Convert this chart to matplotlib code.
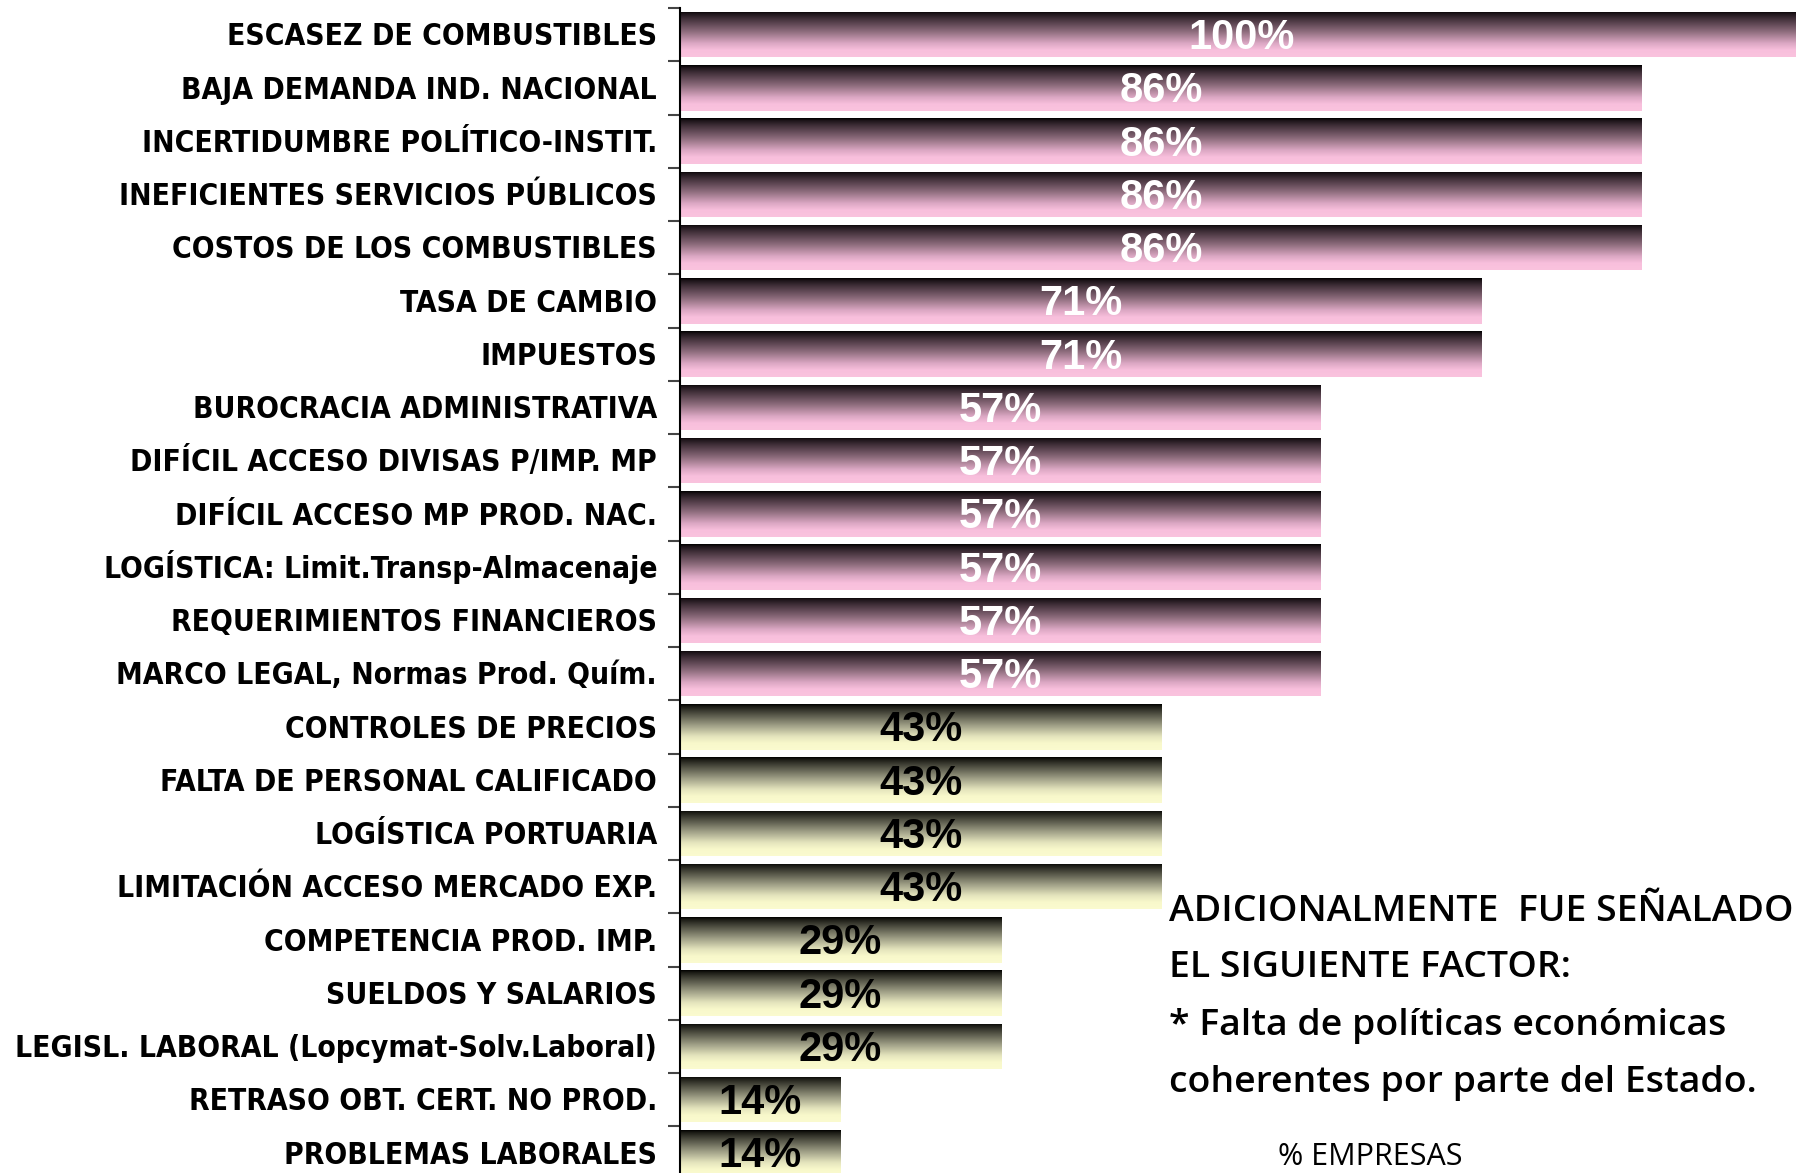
import numpy as np
import matplotlib
matplotlib.use("Agg")
import matplotlib.pyplot as plt
from matplotlib.colors import LinearSegmentedColormap
from matplotlib import font_manager as fm
import matplotlib.transforms as mtransforms

categories = [
    "ESCASEZ DE COMBUSTIBLES",
    "BAJA DEMANDA IND. NACIONAL",
    "INCERTIDUMBRE POLÍTICO-INSTIT.",
    "INEFICIENTES SERVICIOS PÚBLICOS",
    "COSTOS DE LOS COMBUSTIBLES",
    "TASA DE CAMBIO",
    "IMPUESTOS",
    "BUROCRACIA ADMINISTRATIVA",
    "DIFÍCIL ACCESO DIVISAS P/IMP. MP",
    "DIFÍCIL ACCESO MP PROD. NAC.",
    "LOGÍSTICA: Limit.Transp-Almacenaje",
    "REQUERIMIENTOS FINANCIEROS",
    "MARCO LEGAL, Normas Prod. Quím.",
    "CONTROLES DE PRECIOS",
    "FALTA DE PERSONAL CALIFICADO",
    "LOGÍSTICA PORTUARIA",
    "LIMITACIÓN ACCESO MERCADO EXP.",
    "COMPETENCIA PROD. IMP.",
    "SUELDOS Y SALARIOS",
    "LEGISL. LABORAL (Lopcymat-Solv.Laboral)",
    "RETRASO OBT. CERT. NO PROD.",
    "PROBLEMAS LABORALES",
]
values = [100, 85.7, 85.7, 85.7, 85.7, 71.4, 71.4, 57.1, 57.1, 57.1, 57.1,
          57.1, 57.1, 42.9, 42.9, 42.9, 42.9, 28.6, 28.6, 28.6, 14.3, 14.3]
value_labels = ["100%", "86%", "86%", "86%", "86%", "71%", "71%", "57%", "57%",
                "57%", "57%", "57%", "57%", "43%", "43%", "43%", "43%", "29%",
                "29%", "29%", "14%", "14%"]
threshold = 50
note_lines = ["ADICIONALMENTE  FUE SEÑALADO",
              "EL SIGUIENTE FACTOR:",
              "* Falta de políticas económicas",
              "coherentes por parte del Estado."]
axis_title = "% EMPRESAS"

W, H = 1796, 1173
fig = plt.figure(figsize=(W / 100, H / 100), dpi=100)
fig.patch.set_facecolor("white")

ax_left_px = 680
ax_width_px = 1122.5
ax_top_px = 8
ax_bot_px = 8 + 22 * 53.25
ax = fig.add_axes([ax_left_px / W, (H - ax_bot_px) / H, ax_width_px / W,
                   (ax_bot_px - ax_top_px) / H])
ax.set_facecolor("none")

# pick a narrow / condensed bold face for the category labels if available
lab_prop = None
for f in fm.fontManager.ttflist:
    if f.name == "Liberation Sans Narrow" and f.weight in ("bold", 700):
        lab_prop = fm.FontProperties(fname=f.fname)
        break
if lab_prop is None:
    for f in fm.fontManager.ttflist:
        nm = f.name.lower()
        if ("condensed" in nm or "narrow" in nm or f.stretch in ("condensed", "semi-condensed")) \
                and f.weight in ("bold", 700) and "mono" not in nm and "serif" not in nm:
            lab_prop = fm.FontProperties(fname=f.fname)
            break
if lab_prop is None:
    lab_prop = fm.FontProperties(family="Liberation Sans", weight="bold")

pink_cmap = LinearSegmentedColormap.from_list("pinkgrad", [
    (0.0, "#000000"), (0.05, "#1c1318"), (0.15, "#3c2c35"), (0.45, "#8f6d7e"),
    (0.70, "#dba7c3"), (0.85, "#f8bfdc"), (1.0, "#fac3de")])
yel_cmap = LinearSegmentedColormap.from_list("yelgrad", [
    (0.0, "#000000"), (0.05, "#1a1a14"), (0.15, "#3c3c32"), (0.45, "#9a9a82"),
    (0.70, "#e3e3bc"), (0.85, "#f8f8cb"), (1.0, "#fbfbcf")])

y = np.arange(len(categories))
bar_h = 0.85
bars = ax.barh(y, values, height=bar_h, color="none", edgecolor="none")

grad = np.linspace(0, 1, 256).reshape(-1, 1)
for bar, v in zip(bars, values):
    x0, y0 = bar.get_x(), bar.get_y()
    w, h = bar.get_width(), bar.get_height()
    cmap = pink_cmap if v > threshold else yel_cmap
    im = ax.imshow(grad, cmap=cmap, aspect="auto", interpolation="bilinear",
                   extent=[x0, x0 + w, y0 + h, y0], origin="upper", zorder=2)
    im.set_clip_path(bar)

ax.set_xlim(0, 100)
ax.set_ylim(len(categories) - 0.5, -0.5)

for yi, v, lbl in zip(y, values, value_labels):
    ax.text(v / 2, yi + 0.27, lbl, ha="center", va="baseline",
            fontsize=30, fontweight="bold", family="Liberation Sans",
            color="white" if v > threshold else "black", zorder=5)

trans = mtransforms.blended_transform_factory(ax.transAxes, ax.transData)
lab_texts = []
for yi, cat in zip(y, categories):
    t = ax.text(-23 / ax_width_px, yi + 0.2, cat, ha="right", va="baseline",
                fontproperties=lab_prop, fontsize=26, color="black",
                transform=trans)
    lab_texts.append(t)

# shrink label size so that the longest label fits in the left margin
fig.canvas.draw()
renderer = fig.canvas.get_renderer()
maxw = max(t.get_window_extent(renderer).width for t in lab_texts)
avail = 643.0
if maxw > avail:
    new_size = 26 * avail / maxw
    for t in lab_texts:
        t.set_fontsize(new_size)

ax.set_yticks(y)
ax.set_yticklabels([])
ax.tick_params(axis="y", which="major", length=0)
ax.set_yticks(np.arange(-0.5, len(categories)), minor=True)
ax.tick_params(axis="y", which="minor", length=8.5, width=1.5, color="#444444")
ax.set_xticks([])
for s in ["top", "right", "bottom"]:
    ax.spines[s].set_visible(False)
ax.spines["left"].set_linewidth(1.5)
ax.spines["left"].set_color("black")
ax.spines["left"].set_zorder(6)

baselines = [921, 977, 1035, 1092]
note_texts = []
for line, b in zip(note_lines, baselines):
    t = fig.text(1169 / W, 1 - b / H, line, ha="left", va="baseline",
                 fontsize=27.7, family="Open Sans", fontweight="semibold",
                 color="black")
    note_texts.append(t)
fig.canvas.draw()
w0 = note_texts[0].get_window_extent(fig.canvas.get_renderer()).width
if w0 > 625:
    for t in note_texts:
        t.set_fontsize(27.7 * 625 / w0)
fig.text(1278 / W, 1 - 1165 / H, axis_title, ha="left", va="baseline",
         fontsize=22, family="Open Sans", color="black")

fig.savefig("out.png", dpi=100, facecolor="white")
